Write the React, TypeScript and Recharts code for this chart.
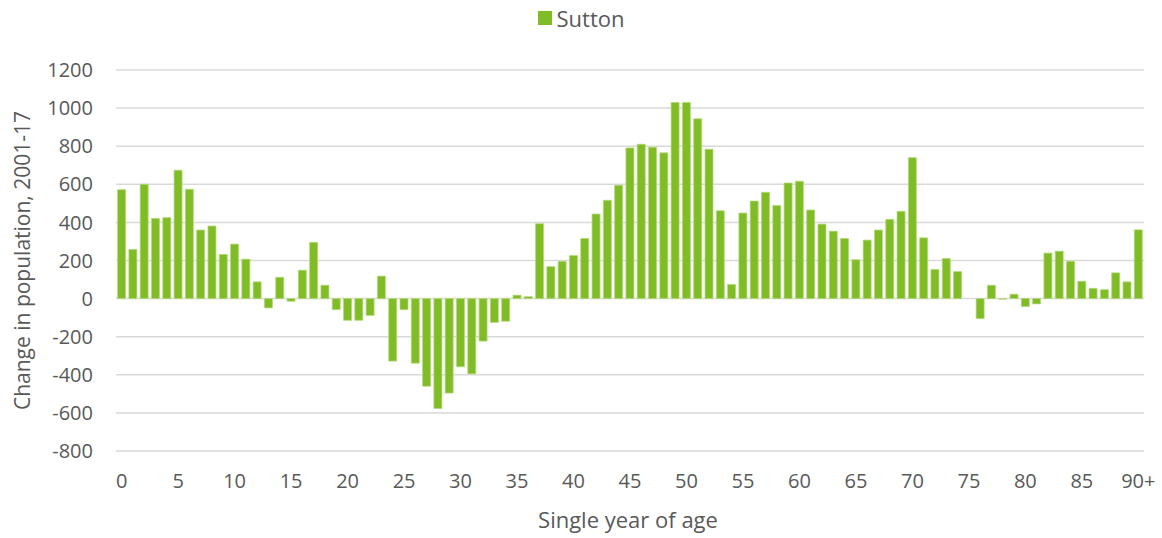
import React from 'react';
import { BarChart, Bar, XAxis, YAxis, CartesianGrid, Legend } from 'recharts';

const ages = [
  '0','1','2','3','4','5','6','7','8','9',
  '10','11','12','13','14','15','16','17','18','19',
  '20','21','22','23','24','25','26','27','28','29',
  '30','31','32','33','34','35','36','37','38','39',
  '40','41','42','43','44','45','46','47','48','49',
  '50','51','52','53','54','55','56','57','58','59',
  '60','61','62','63','64','65','66','67','68','69',
  '70','71','72','73','74','75','76','77','78','79',
  '80','81','82','83','84','85','86','87','88','89',
  '90+',
];

const sutton = [
  572, 258, 600, 421, 425, 674, 574, 360, 381, 232,
  286, 207, 88, -49, 112, -14, 149, 295, 70, -58,
  -114, -114, -88, 118, -328, -58, -339, -460, -577, -496,
  -358, -395, -223, -125, -119, 18, 10, 393, 168, 196,
  226, 316, 444, 516, 595, 791, 810, 795, 765, 1030,
  1030, 944, 784, 461, 74, 449, 512, 558, 489, 607,
  616, 465, 391, 354, 316, 204, 307, 360, 416, 458,
  740, 319, 153, 211, 142, 0, -105, 70, -3, 23,
  -42, -28, 239, 249, 196, 91, 54, 47, 135, 88,
  361,
];

const yTicks = [-800, -600, -400, -200, 0, 200, 400, 600, 800, 1000, 1200];

const data = ages.map((age, i) => ({ age, Sutton: sutton[i] }));

const FONT = 'Open Sans, sans-serif';
const TEXT = '#595959';

const YLabel = (props: any) => {
  const vb = props.viewBox || {};
  const cy = vb.y + vb.height / 2;
  return (
    <text x={22} y={cy} transform={`rotate(-90, 22, ${cy})`} textAnchor="middle" dominantBaseline="central" fill={TEXT} fontSize={21} fontFamily={FONT}>
      Change in population, 2001-17
    </text>
  );
};

const XLabel = (props: any) => {
  const vb = props.viewBox || {};
  const cx = vb.x + vb.width / 2;
  return (
    <text x={cx - 2} y={519} textAnchor="middle" dominantBaseline="central" fill={TEXT} fontSize={22} fontFamily={FONT}>
      Single year of age
    </text>
  );
};

const LegendContent = () => (
  <div style={{ display: 'flex', justifyContent: 'center', alignItems: 'center', fontFamily: FONT, fontSize: 22, color: TEXT, height: 26, lineHeight: '26px' }}>
    <span style={{ display: 'inline-block', width: 14, height: 14, background: '#80bc25', marginRight: 5 }} />
    <span>Sutton</span>
  </div>
);

export default function App() {
  return (
    <div style={{ position: 'absolute', left: 0, top: 0, width: 1162, height: 538, background: '#fff' }}>
      <BarChart width={1162} height={538} data={data} margin={{ top: 44, right: 18, bottom: 17, left: 56 }} barCategoryGap="14%">
        <Legend verticalAlign="top" align="center" content={<LegendContent />} wrapperStyle={{ top: 5, left: 0, width: 1162 }} />
        <CartesianGrid vertical={false} stroke="#d9d9d9" strokeWidth={1.5} />
        <XAxis
          dataKey="age"
          interval={4}
          axisLine={false}
          tickLine={false}
          tickSize={0}
          tickMargin={23}
          height={70}
          tick={{ fill: TEXT, fontSize: 20, fontFamily: FONT }}
          label={<XLabel />}
        />
        <YAxis
          domain={[-800, 1200]}
          ticks={yTicks}
          interval={0}
          axisLine={false}
          tickLine={false}
          tickSize={0}
          tickMargin={23}
          width={60}
          tick={{ fill: TEXT, fontSize: 20, fontFamily: FONT }}
          label={<YLabel />}
        />
        <Bar dataKey="Sutton" fill="#80bc25" stroke="#b3d97a" strokeWidth={0.75} isAnimationActive={false} />
      </BarChart>
    </div>
  );
}
